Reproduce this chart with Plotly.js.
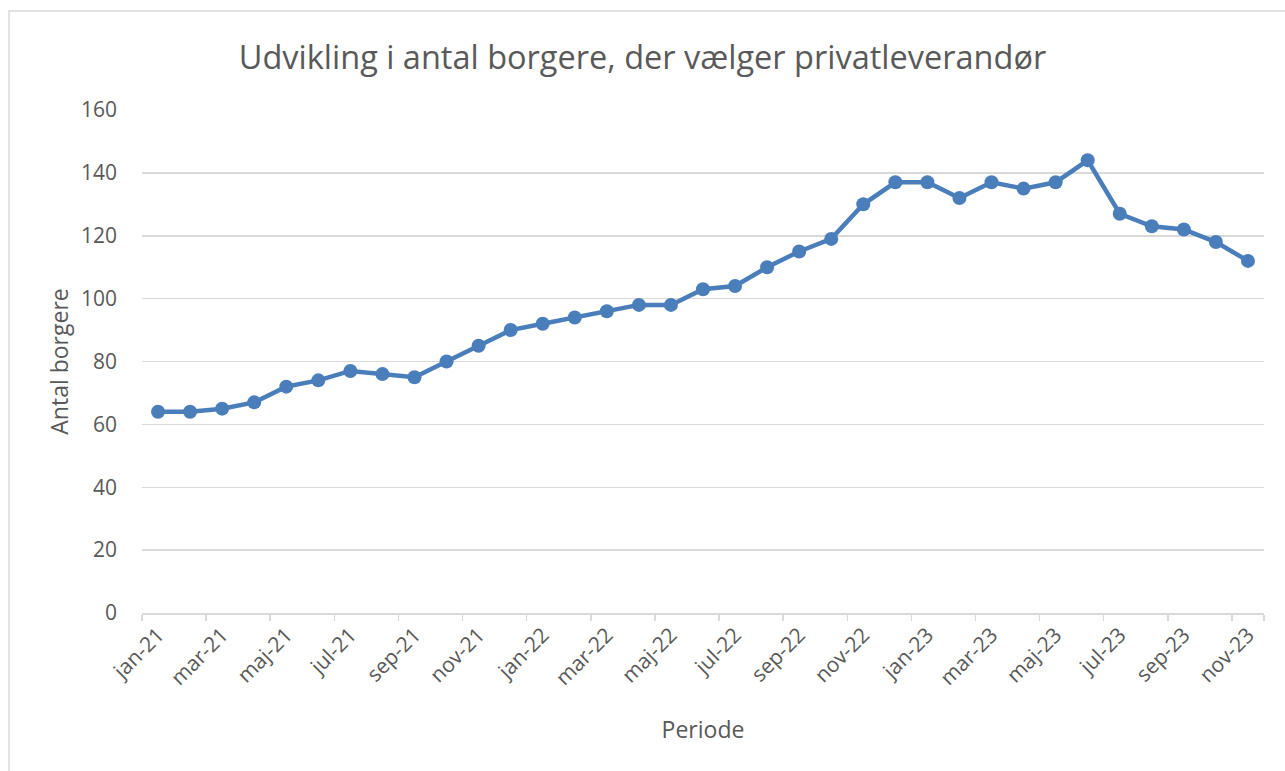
<!DOCTYPE html>
<html>
<head>
<meta charset="utf-8">
<script src="https://cdn.plot.ly/plotly-3.0.1.min.js"></script>
<style>html,body{margin:0;padding:0;background:#fff;}#chart{width:1285px;height:771px;}</style>
</head>
<body>
<div id="chart"></div>
<script>
const months = ["jan-21","feb-21","mar-21","apr-21","maj-21","jun-21","jul-21","aug-21","sep-21","okt-21","nov-21","dec-21",
"jan-22","feb-22","mar-22","apr-22","maj-22","jun-22","jul-22","aug-22","sep-22","okt-22","nov-22","dec-22",
"jan-23","feb-23","mar-23","apr-23","maj-23","jun-23","jul-23","aug-23","sep-23","okt-23","nov-23"];
const borgere = [64,64,65,67,72,74,77,76,75,80,85,90,92,94,96,98,98,103,104,110,115,119,130,137,137,132,137,135,137,144,127,123,122,118,112];
const tickLabels = months.filter((m,i)=>i%2===0);
const yTicks = [0,20,40,60,80,100,120,140,160];

const font = "'Open Sans', sans-serif";
const grey = "#595959";
const trace = {
  x: months, y: borgere, type: "scatter", mode: "lines+markers",
  line: {color: "#4a7ebb", width: 4.5},
  marker: {color: "#4a7ebb", size: 14},
  hoverinfo: "x+y"
};
const layout = {
  width: 1285, height: 771,
  margin: {l: 142, r: 21, t: 110, b: 158},
  paper_bgcolor: "#fff", plot_bgcolor: "#fff",
  font: {family: font, color: grey, size: 21},
  title: {text: "Udvikling i antal borgere, der vælger privatleverandør", font: {family: font, size: 32.5, color: grey}, x: 0.5, xanchor: "center", y: 0.925, yanchor: "middle"},
  showlegend: false,
  xaxis: {
    type: "category", range: [-0.5, months.length - 0.5],
    tickmode: "array", tickvals: tickLabels, ticktext: tickLabels,
    tickson: "boundaries", ticks: "outside", ticklen: 6, tickcolor: "#d9d9d9", tickwidth: 1.5,
    tickangle: -45, tickfont: {family: font, size: 21, color: grey},
    showgrid: false, showline: true, linecolor: "#d9d9d9", linewidth: 1.5,
    zeroline: false, fixedrange: true,
    title: {text: "Periode", font: {family: font, size: 23, color: grey}, standoff: 32}
  },
  yaxis: {
    range: [0, 160], tickmode: "array", tickvals: yTicks,
    showgrid: true, gridcolor: "#d9d9d9", gridwidth: 1.5, zeroline: false,
    showline: false, ticks: "", ticklabelstandoff: 24,
    tickfont: {family: font, size: 21, color: grey}, fixedrange: true,
    title: {text: "Antal borgere", font: {family: font, size: 23, color: grey}, standoff: 5}
  },
  shapes: [{
    type: "rect", xref: "paper", yref: "paper",
    x0: (9 - 142) / 1122, x1: 1.2, y0: -0.6, y1: (613 - 11) / 503,
    line: {color: "#d9d9d9", width: 1.5}, fillcolor: "rgba(0,0,0,0)", layer: "below"
  }]
};
Plotly.newPlot("chart", [trace], layout, {displayModeBar: false, staticPlot: true});
</script>
</body>
</html>
